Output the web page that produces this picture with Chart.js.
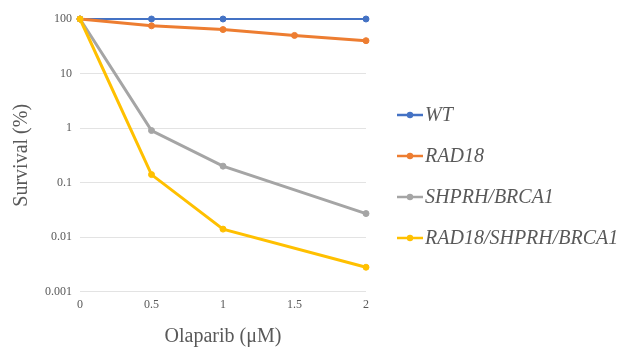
<!DOCTYPE html>
<html>
<head>
<meta charset="utf-8">
<script src="https://cdn.jsdelivr.net/npm/chart.js@4"></script>
<style>
  body { margin: 0; background: #fff; }
  #wrap { width: 622px; height: 349px; }
</style>
</head>
<body>
<div id="wrap"><canvas id="chart" width="622" height="349"></canvas></div>
<script>
// Data
const doses = [0, 0.5, 1, 1.5, 2];
const seriesNames = ['WT', 'RAD18', 'SHPRH/BRCA1', 'RAD18/SHPRH/BRCA1'];
const wt = [100, 100, 100, null, 100];
const rad18 = [100, 75, 64, 50, 40];
const shprhBrca1 = [100, 0.9, 0.2, null, 0.027];
const tripleKo = [100, 0.14, 0.014, null, 0.0028];
const yTicks = [0.001, 0.01, 0.1, 1, 10, 100];
const colors = ['#4472C4', '#ED7D31', '#A5A5A5', '#FFC000'];

const toPoints = (vals) => doses
  .map((d, i) => ({ x: d, y: vals[i] }))
  .filter(p => p.y !== null);

const serif = "'Liberation Serif', 'DejaVu Serif', serif";
const grey = '#595959';

// Legend with line + dot markers, drawn on the canvas
const sideLegend = {
  id: 'sideLegend',
  afterDraw(chart) {
    const ctx = chart.ctx;
    ctx.save();
    chart.data.datasets.forEach((ds, i) => {
      const y = 115 + i * 41;
      ctx.strokeStyle = ds.borderColor;
      ctx.lineWidth = 2.5;
      ctx.beginPath();
      ctx.moveTo(397, y);
      ctx.lineTo(423, y);
      ctx.stroke();
      ctx.fillStyle = ds.borderColor;
      ctx.beginPath();
      ctx.arc(410, y, 3.2, 0, Math.PI * 2);
      ctx.fill();
      ctx.fillStyle = grey;
      ctx.font = 'italic 20px ' + serif;
      ctx.textBaseline = 'middle';
      ctx.fillText(ds.label, 425, y + 1);
    });
    ctx.restore();
  }
};

const allSeries = [wt, rad18, shprhBrca1, tripleKo];

new Chart(document.getElementById('chart'), {
  type: 'line',
  data: {
    datasets: allSeries.map((vals, i) => ({
      label: seriesNames[i],
      data: toPoints(vals),
      borderColor: colors[i],
      backgroundColor: colors[i],
      borderWidth: i === 0 ? 2 : 3,
      pointRadius: 3,
      pointBorderWidth: 1,
      pointHoverRadius: 3,
      tension: 0,
      clip: false,
      order: allSeries.length - i  // later series drawn on top, as in the source
    }))
  },
  options: {
    responsive: false,
    animation: false,
    layout: { padding: { left: 10, right: 256, top: 19, bottom: 0 } },
    plugins: {
      legend: { display: false },
      tooltip: { enabled: false }
    },
    scales: {
      x: {
        type: 'linear',
        min: 0,
        max: 2,
        ticks: {
          stepSize: 0.5,
          color: grey,
          font: { family: serif, size: 12 },
          padding: 6,
          maxRotation: 0,
          callback: (v) => String(v)
        },
        grid: { display: false, drawTicks: false },
        border: { display: false },
        title: {
          display: true,
          text: 'Olaparib (μM)',
          color: grey,
          font: { family: serif, size: 20 },
          padding: { top: 7, bottom: 0 }
        }
      },
      y: {
        type: 'logarithmic',
        min: 0.001,
        max: 100,
        afterBuildTicks: (axis) => {
          axis.ticks = yTicks.map(v => ({ value: v }));
        },
        ticks: {
          color: grey,
          font: { family: serif, size: 12 },
          padding: 8,
          callback: (v) => String(v)
        },
        grid: { color: '#e3e3e3', lineWidth: 1, drawTicks: false },
        border: { display: false },
        title: {
          display: true,
          text: 'Survival (%)',
          color: grey,
          font: { family: serif, size: 20 },
          padding: { top: 0, bottom: 3 }
        }
      }
    }
  },
  plugins: [sideLegend]
});
</script>
</body>
</html>
